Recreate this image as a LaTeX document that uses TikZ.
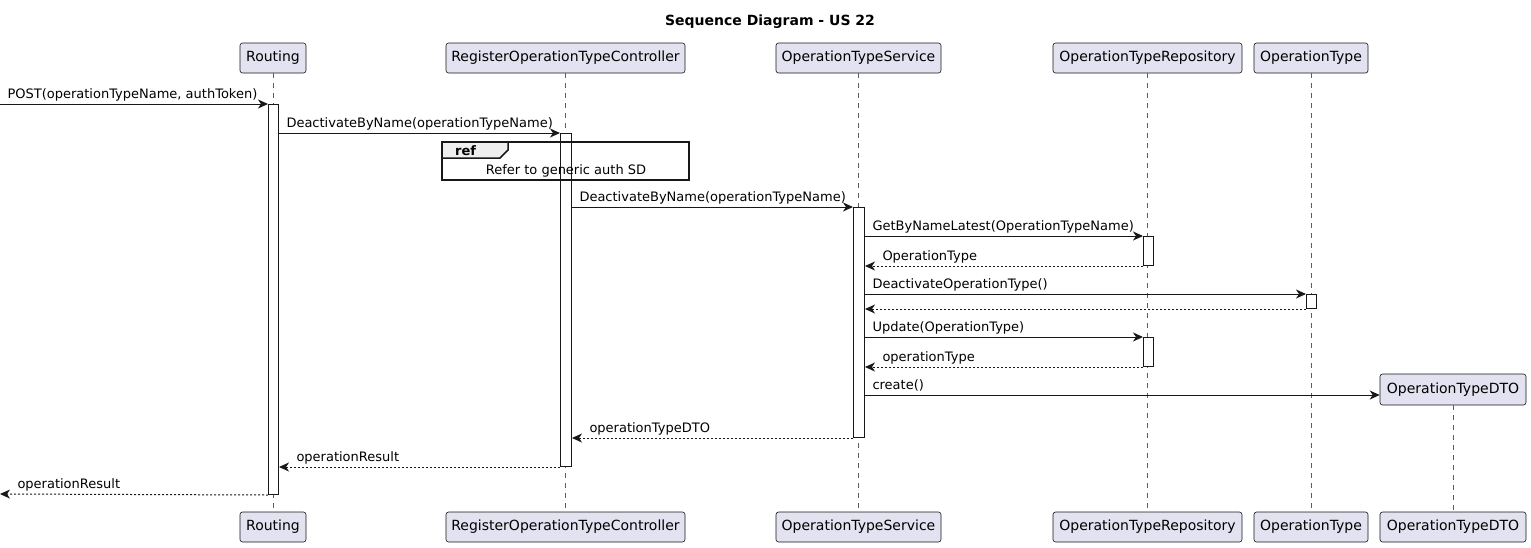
\documentclass[tikz,border=0pt]{standalone}
\usepackage{fontspec}
\setmainfont{DejaVu Sans}
\usetikzlibrary{arrows.meta}
\definecolor{pfill}{HTML}{E2E2F0}
\definecolor{ln}{HTML}{181818}
\definecolor{tabfill}{HTML}{EEEEEE}
\newcommand{\msgfont}{\fontsize{13}{15}\selectfont}
\newcommand{\partfont}{\fontsize{14}{16}\selectfont}
\begin{document}
\begin{tikzpicture}[x=1pt,y=-1pt,
  part/.style={draw=ln, fill=pfill, rounded corners=2.5pt, line width=0.6pt, minimum height=30pt, inner sep=0pt, font=\partfont},
  life/.style={draw=ln!70, line width=0.5pt, dash pattern=on 5pt off 5pt},
  act/.style={draw=ln, fill=white, line width=1pt, minimum width=10pt, inner sep=0pt, anchor=north west},
  msg/.style={draw=ln, line width=1pt, -{Stealth[length=10pt,width=9pt,inset=3pt]}},
  ret/.style={msg, dash pattern=on 2pt off 2pt},
  lblr/.style={at start, anchor=base west, xshift=7pt, yshift=6pt, inner sep=0pt, font=\msgfont, text=black},
  lbll/.style={at end, anchor=base west, xshift=17pt, yshift=6pt, inner sep=0pt, font=\msgfont, text=black}]
\useasboundingbox (0,0) rectangle (1531,547);
\fill[white] (0,0) rectangle (1531,547);

\node[font=\fontsize{14}{16}\selectfont\bfseries] (title) at (770,22) {Sequence Diagram - US 22};

% participants top
\node[part, minimum width=66pt] (rT) at (273,58) {Routing};
\node[part, minimum width=239pt] (cT) at (565.5,58) {RegisterOperationTypeController};
\node[part, minimum width=165pt] (sT) at (858.5,58) {OperationTypeService};
\node[part, minimum width=189pt] (pT) at (1147.5,58) {OperationTypeRepository};
\node[part, minimum width=114pt] (oT) at (1311,58) {OperationType};
\node[part, minimum width=146pt, minimum height=31pt] (dT) at (1453,389.5) {OperationTypeDTO};
% participants bottom
\node[part, minimum width=66pt] (rB) at (273,527) {Routing};
\node[part, minimum width=239pt] (cB) at (565.5,527) {RegisterOperationTypeController};
\node[part, minimum width=165pt] (sB) at (858.5,527) {OperationTypeService};
\node[part, minimum width=189pt] (pB) at (1147.5,527) {OperationTypeRepository};
\node[part, minimum width=114pt] (oB) at (1311,527) {OperationType};
\node[part, minimum width=146pt] (dB) at (1453,527) {OperationTypeDTO};

% lifelines
\draw[life] (rT.south) -- (rB.north);
\draw[life] (cT.south) -- (cB.north);
\draw[life] (sT.south) -- (sB.north);
\draw[life] (pT.south) -- (pB.north);
\draw[life] (oT.south) -- (oB.north);
\draw[life] (dT.south) -- (dB.north);

% activations
\node[act, minimum height=390pt] (aR) at (268,104) {};
\node[act, minimum height=333pt, minimum width=11pt] (aC) at (560,133) {};
\node[act, minimum height=230pt, minimum width=11pt] (aS) at (853,207) {};
\node[act, minimum height=29pt] (aP1) at (1143,236) {};
\node[act, minimum height=14pt] (aO) at (1306,294) {};
\node[act, minimum height=29pt] (aP2) at (1143,337) {};

% ref frame
\draw[ln, line width=1.5pt] (442,142) rectangle (689,180);
\filldraw[draw=ln, fill=tabfill, line width=1.5pt] (442,142) -- (508,142) -- (508,150) -- (500,158) -- (442,158) -- cycle;
\node[font=\msgfont\bfseries, anchor=base west, inner sep=0pt] (reftag) at (455,155.5) {ref};
\node[font=\msgfont, anchor=base, inner sep=0pt] (reftxt) at (566,174) {Refer to generic auth SD};

% messages
\coordinate (in) at (0,104);
\coordinate (out) at (0,494);
\coordinate (dIn) at ([yshift=-5.5pt]dT.west);
\draw[msg] (in) -- (aR.north west) node[lblr] (m1) {POST(operationTypeName, authToken)};
\draw[msg] (aR.east |- aC.north) -- (aC.north west) node[lblr] (m2) {DeactivateByName(operationTypeName)};
\draw[msg] (aC.east |- aS.north) -- (aS.north west) node[lblr] (m3) {DeactivateByName(operationTypeName)};
\draw[msg] (aS.east |- aP1.north) -- (aP1.north west) node[lblr] (m4) {GetByNameLatest(OperationTypeName)};
\draw[ret] (aP1.south west) -- (aS.east |- aP1.south) node[lbll] (m5) {OperationType};
\draw[msg] (aS.east |- aO.north) -- (aO.north west) node[lblr] (m6) {DeactivateOperationType()};
\draw[ret] (aO.south west) -- (aS.east |- aO.south);
\draw[msg] (aS.east |- aP2.north) -- (aP2.north west) node[lblr] (m7) {Update(OperationType)};
\draw[ret] (aP2.south west) -- (aS.east |- aP2.south) node[lbll] (m8) {operationType};
\draw[msg] (aS.east |- dIn) -- (dIn) node[lblr] (m9) {create()};
\draw[ret] (aS.south west) -- (aC.east |- aS.south) node[lbll] (m10) {operationTypeDTO};
\draw[ret] (aC.south west) -- (aR.east |- aC.south) node[lbll] (m11) {operationResult};
\draw[ret] (aR.south west) -- (out) node[lbll] (m12) {operationResult};
\end{tikzpicture}
\end{document}
